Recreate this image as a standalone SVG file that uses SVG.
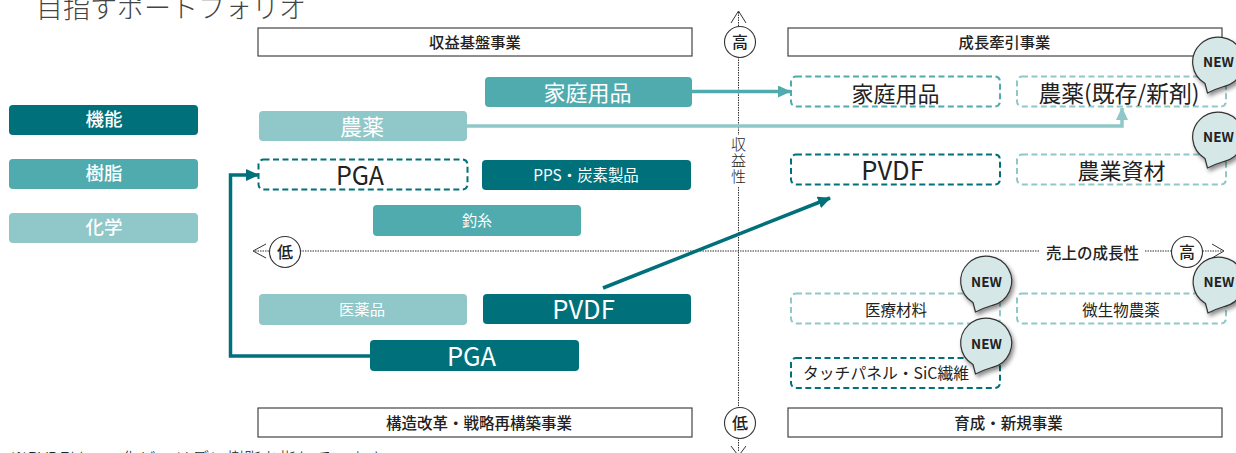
<svg xmlns="http://www.w3.org/2000/svg" width="1236" height="453" viewBox="0 0 1236 453">
<style>
text{font-family:"Noto Sans CJK JP","Noto Sans",sans-serif;text-anchor:middle;fill:#222}
.w{fill:#fff}
.hd{fill:#fff;stroke:#444;stroke-width:1.2}
.dk{fill:#00707a}.md{fill:#4fabae}.lt{fill:#90c7c8}
.dash{fill:#fff;stroke-width:2;stroke-dasharray:6 3.5}
.sd{stroke:#00707a}.sm{stroke:#4fabae}.sl{stroke:#90c7c8}
.ax{fill:none;stroke:#333;stroke-width:1;stroke-dasharray:1.5 1}
.chev{fill:none;stroke:#333;stroke-width:1}
.circ{fill:#fff;stroke:#333;stroke-width:1.1}
.bub{fill:#d6e7e8;stroke:#333;stroke-width:1.2}
.conn{fill:none;stroke-width:3.5}
</style>
<defs>
<filter id="sh" x="-30%" y="-30%" width="170%" height="170%"><feDropShadow dx="2" dy="3" stdDeviation="2" flood-color="#000" flood-opacity="0.45"/></filter>
<path id="bubble" class="bub" filter="url(#sh)" d="M-11,31 L-13.500,21.500 A25.500,25 0 1 1 6,24.300 Q-3,27 -11,31 Z"/>
<marker id="ad" markerUnits="userSpaceOnUse" markerWidth="14" markerHeight="12" refX="12" refY="6" orient="auto"><path d="M0,0 L13,6 L0,12 Z" fill="#00707a"/></marker>
<marker id="am" markerUnits="userSpaceOnUse" markerWidth="14" markerHeight="12" refX="12" refY="6" orient="auto"><path d="M0,0 L13,6 L0,12 Z" fill="#4fabae"/></marker>
<marker id="al" markerUnits="userSpaceOnUse" markerWidth="14" markerHeight="12" refX="12" refY="6" orient="auto"><path d="M0,0 L13,6 L0,12 Z" fill="#90c7c8"/></marker>
</defs>
<rect width="1236" height="453" fill="#fff"/>

<g id="axes">
<path class="ax" d="M738.500,12V452M255,251H1222"/>
<path class="chev" d="M731,23L738.500,11L746,23M731,446L738.500,456L746,446M266,244L253,251L266,258M1212,244L1224,251L1212,258"/>
<rect x="728" y="135" width="21" height="51" fill="#fff"/>
<rect x="1040" y="240" width="105" height="22" fill="#fff"/>
</g>

<g id="title"><text x="171" y="18" font-size="27" font-weight="300" style="fill:#444">目指すポートフォリオ</text></g>
<g id="footnote"><text x="10" y="465" font-size="17.500" font-weight="300" style="text-anchor:start">※PVDFはフッ化ビニリデン樹脂を指しています</text></g>

<g id="legend-kino"><rect class="dk" x="9" y="105" width="189" height="30" rx="4"/><text class="w" x="104" y="126" font-size="18.500" font-weight="500">機能</text></g>
<g id="legend-jushi"><rect class="md" x="9" y="159" width="189" height="30" rx="4"/><text class="w" x="104" y="180" font-size="18.500" font-weight="500">樹脂</text></g>
<g id="legend-kagaku"><rect class="lt" x="9" y="213" width="189" height="30" rx="4"/><text class="w" x="104" y="234" font-size="18.500" font-weight="500">化学</text></g>

<g id="hd-tl"><rect class="hd" x="258" y="28" width="434" height="28"/><text x="475" y="48" font-size="15.300" font-weight="500">収益基盤事業</text></g>
<g id="hd-tr"><rect class="hd" x="788" y="28" width="434" height="28"/><text x="1004.500" y="48" font-size="15.300" font-weight="500">成長牽引事業</text></g>
<g id="hd-bl"><rect class="hd" x="258" y="408" width="434" height="29"/><text x="479" y="429" font-size="15.500" font-weight="500">構造改革・戦略再構築事業</text></g>
<g id="hd-br"><rect class="hd" x="788" y="408" width="434" height="29"/><text x="1008.500" y="429" font-size="15.500" font-weight="500">育成・新規事業</text></g>

<g id="n-katei"><rect class="md" x="485" y="77" width="207" height="30" rx="4"/><text class="w" x="587.500" y="101" font-size="22">家庭用品</text></g>
<g id="n-noyaku"><rect class="lt" x="259" y="111" width="208" height="30" rx="4"/><text class="w" x="362" y="135" font-size="22">農薬</text></g>
<g id="n-pga-t"><rect class="dash sd" x="258.500" y="159.500" width="209" height="30" rx="5"/><text x="360" y="185" font-size="25">PGA</text></g>
<g id="n-pps"><rect class="dk" x="482" y="160" width="209" height="30" rx="4"/><text class="w" x="586" y="181" font-size="15.400">PPS・炭素製品</text></g>
<g id="n-tsuri"><rect class="md" x="373" y="205" width="208" height="31" rx="4"/><text class="w" x="477" y="226" font-size="15">釣糸</text></g>
<g id="n-iyaku"><rect class="lt" x="259" y="294" width="208" height="31" rx="4"/><text class="w" x="362" y="315" font-size="15.300">医薬品</text></g>
<g id="n-pvdf"><rect class="dk" x="483" y="294" width="208" height="30" rx="4"/><text class="w" x="583.500" y="319" font-size="25.500">PVDF</text></g>
<g id="n-pga-b"><rect class="dk" x="370" y="340" width="209" height="31" rx="4"/><text class="w" x="471.500" y="366" font-size="25.500">PGA</text></g>

<g id="connectors">
<path class="conn sm" d="M692,91.500H790" marker-end="url(#am)"/>
<path class="conn sl" d="M467,126H1122V108" marker-end="url(#al)"/>
<path class="conn sd" d="M370,356H230.500V175H258" marker-end="url(#ad)"/>
<path class="conn sd" d="M603,288L830,198" marker-end="url(#ad)"/>
</g>

<g id="n-r-katei"><rect class="dash sm" x="791" y="76.500" width="209" height="30" rx="5"/><text x="895.500" y="102" font-size="22">家庭用品</text></g>
<g id="n-r-noyaku"><rect class="dash sl" x="1017" y="76.500" width="209" height="30" rx="5"/><text x="1119" y="102" font-size="22.800">農薬(既存/新剤)</text></g>
<g id="n-r-pvdf"><rect class="dash sd" x="791" y="154.500" width="209" height="30" rx="5"/><text x="892.500" y="180" font-size="25.500">PVDF</text></g>
<g id="n-r-shizai"><rect class="dash sl" x="1017" y="154.500" width="209" height="30" rx="5"/><text x="1121.500" y="179" font-size="22">農業資材</text></g>
<g id="n-r-iryo"><rect class="dash sl" x="791" y="293.500" width="209" height="30" rx="5"/><text x="896" y="316" font-size="15.500">医療材料</text></g>
<g id="n-r-biseibutsu"><rect class="dash sl" x="1017" y="293.500" width="209" height="30" rx="5"/><text x="1121" y="316" font-size="15.500">微生物農薬</text></g>
<g id="n-r-touch"><rect class="dash sd" x="791" y="358" width="209" height="30" rx="5"/><text x="886" y="379" font-size="15.800">タッチパネル・SiC繊維</text></g>

<g id="c-hi-v"><circle class="circ" cx="740" cy="42" r="15.500"/><text x="740" y="48" font-size="16" font-weight="500">高</text></g>
<g id="c-lo-v"><circle class="circ" cx="740" cy="423" r="15.500"/><text x="740" y="429" font-size="16" font-weight="500">低</text></g>
<g id="c-lo-h"><circle class="circ" cx="285" cy="252" r="15.500"/><text x="285" y="258" font-size="16" font-weight="500">低</text></g>
<g id="c-hi-h"><circle class="circ" cx="1187" cy="252" r="15.500"/><text x="1187" y="258" font-size="16" font-weight="500">高</text></g>
<g id="lb-v"><text x="738.500" y="161" font-size="15" font-weight="300" letter-spacing="1" writing-mode="vertical-rl">収益性</text></g>
<g id="lb-h"><text x="1092.500" y="259" font-size="15.500" font-weight="500">売上の成長性</text></g>

<g id="new-1"><use href="#bubble" x="1218.500" y="62"/><text x="1218.500" y="67" font-size="13.500" font-weight="700">NEW</text></g>
<g id="new-2"><use href="#bubble" x="1218.500" y="137"/><text x="1218.500" y="142" font-size="13.500" font-weight="700">NEW</text></g>
<g id="new-3"><use href="#bubble" x="986.500" y="281"/><text x="986.500" y="287" font-size="13.500" font-weight="700">NEW</text></g>
<g id="new-4"><use href="#bubble" x="986.500" y="343"/><text x="986.500" y="349" font-size="13.500" font-weight="700">NEW</text></g>
<g id="new-5"><use href="#bubble" x="1219" y="282"/><text x="1219" y="287" font-size="13.500" font-weight="700">NEW</text></g>
</svg>
